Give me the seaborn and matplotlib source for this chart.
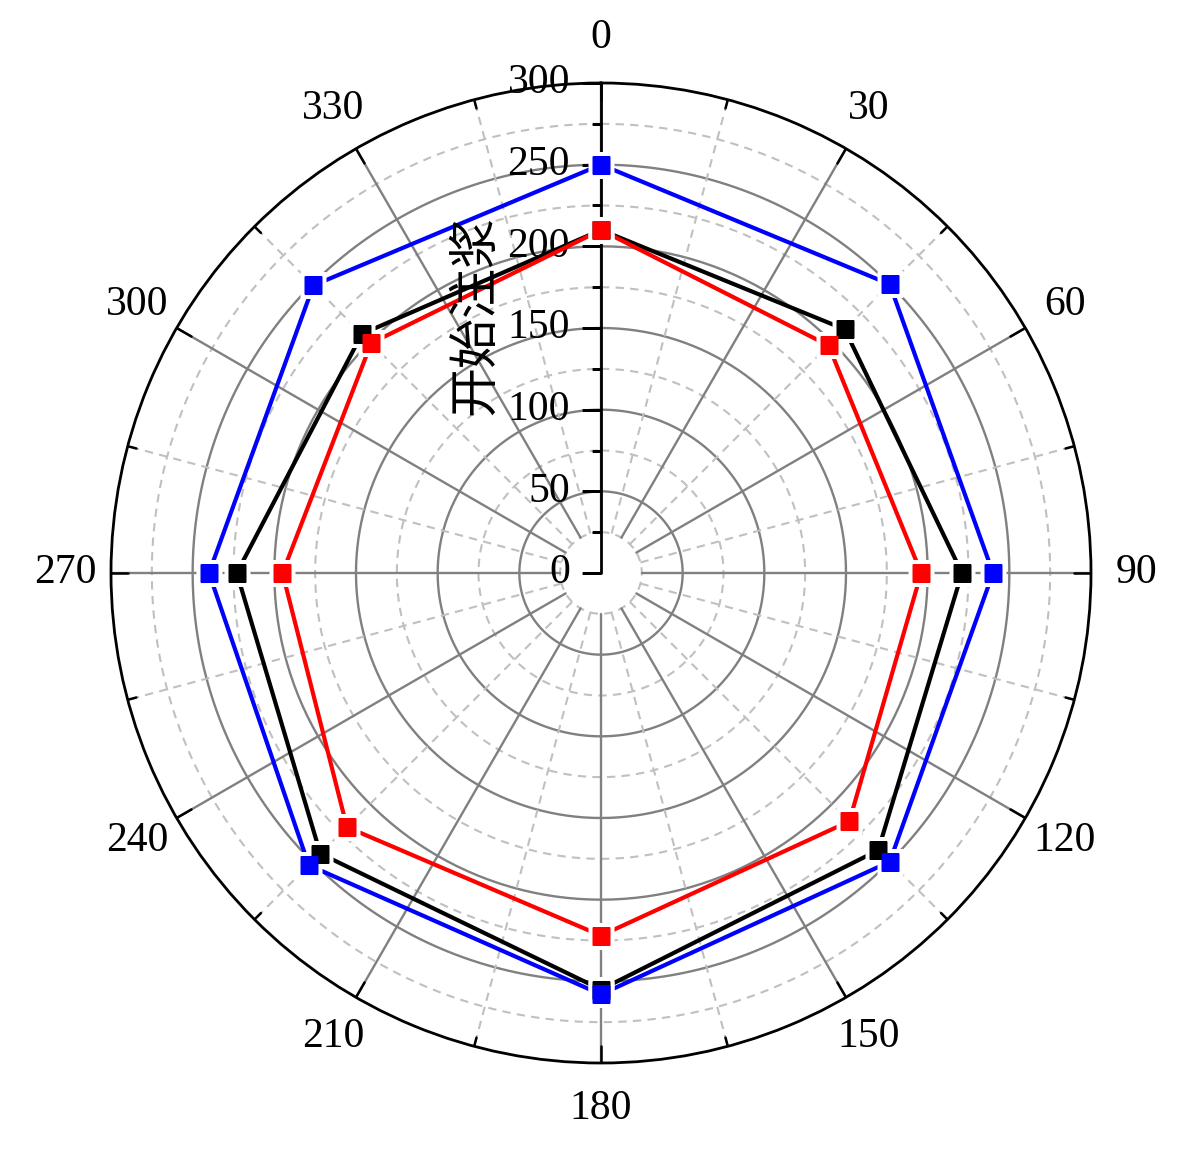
import numpy as np
import seaborn as sns
import matplotlib
matplotlib.use("Agg")
import matplotlib.pyplot as plt

# data (angle in degrees, radius in same units as radial axis)
angles = [0, 45, 90, 135, 180, 225, 270, 315]
blue_vals = [250, 250, 240, 250, 258, 253, 240, 249]
black_vals = [210, 211, 221, 240, 255, 243, 223, 207]
red_vals = [210, 197, 196, 215, 222, 220, 195, 199]
series_order = [("black", black_vals), ("blue", blue_vals), ("red", red_vals)]

angle_ticks = list(range(0, 360, 30))
angle_labels = [str(a) for a in angle_ticks]
r_ticks = [0, 50, 100, 150, 200, 250, 300]
r_minor = [25, 75, 125, 175, 225, 275]
r_label = "开始注浆"

sns.set_theme(style="white")
plt.rcParams["font.family"] = ["Liberation Serif", "Noto Sans CJK SC", "DejaVu Sans"]
plt.rcParams["text.color"] = "black"

W, H, DPI = 1184, 1160, 100
fig = plt.figure(figsize=(W / DPI, H / DPI), dpi=DPI)
cx, cy, R = 601, 573, 490
ax = fig.add_axes([(cx - R) / W, (H - cy - R) / H, 2 * R / W, 2 * R / H], projection="polar")
ax.set_theta_zero_location("N")
ax.set_theta_direction(-1)
ax.set_ylim(0, 300)
ax.grid(False)
ax.set_xticks([])
ax.set_yticks([])
ax.spines["polar"].set_color("black")
ax.spines["polar"].set_linewidth(2)

full = np.linspace(0, 2 * np.pi, 361)
# minor dashed circles and major solid circles
for r in r_minor:
    ax.plot(full, [r] * len(full), color="#c0c0c0", lw=1.5, ls=(0, (4, 3)), zorder=1)
for r in r_ticks[1:-1]:
    ax.plot(full, [r] * len(full), color="#808080", lw=1.7, zorder=1)
# spokes
for a in range(0, 360, 15):
    th = np.deg2rad(a)
    if a % 30 == 0:
        ax.plot([th, th], [25, 300], color="#808080", lw=1.7, zorder=1)
        ax.plot([th, th], [289.5, 300], color="black", lw=1.8, zorder=3)
    else:
        ax.plot([th, th], [25, 300], color="#c0c0c0", lw=1.5, ls=(0, (4, 3)), zorder=1)
        ax.plot([th, th], [294.5, 300], color="black", lw=1.8, zorder=3)

# radial axis line with ticks
ax.plot([0, 0], [0, 300], color="black", lw=2, zorder=4)
ax.plot([0] * len(r_ticks), r_ticks, ls="none", marker=0, ms=13.5, mew=1.8, mec="black", zorder=4)
ax.plot([0] * len(r_minor), r_minor, ls="none", marker=0, ms=6.5, mew=1.8, mec="black", zorder=4)
for r in r_ticks:
    ax.annotate(str(r), xy=(0, r), xytext=(-31, 0), textcoords="offset pixels",
                ha="right", va="center", fontsize=30, color="black", zorder=5)

# angular labels
for a, lab in zip(angle_ticks, angle_labels):
    ax.text(np.deg2rad(a), 328, lab, ha="center", va="center", fontsize=30, color="black")

# data series (close the polygon at 360 deg so the x values stay distinct)
th_closed = np.deg2rad(angles + [360])
for color, vals in series_order:
    v = vals + vals[:1]
    sns.lineplot(x=th_closed, y=v, sort=False, estimator=None, ax=ax, color=color,
                 linewidth=3.0, zorder=6)
    ax.plot(np.deg2rad(angles), vals, ls="none", marker="s", ms=18.5, mfc="white", mec="none", zorder=7)
    ax.plot(np.deg2rad(angles), vals, ls="none", marker="s", ms=13.5, mfc=color, mec="none", zorder=8)

fig.text(475 / W, 1 - 315 / H, r_label, rotation=90, ha="center", va="center",
         fontsize=36, color="black", family=["Noto Sans CJK SC", "DejaVu Sans"])

fig.savefig("out.png", dpi=DPI, facecolor="white")
